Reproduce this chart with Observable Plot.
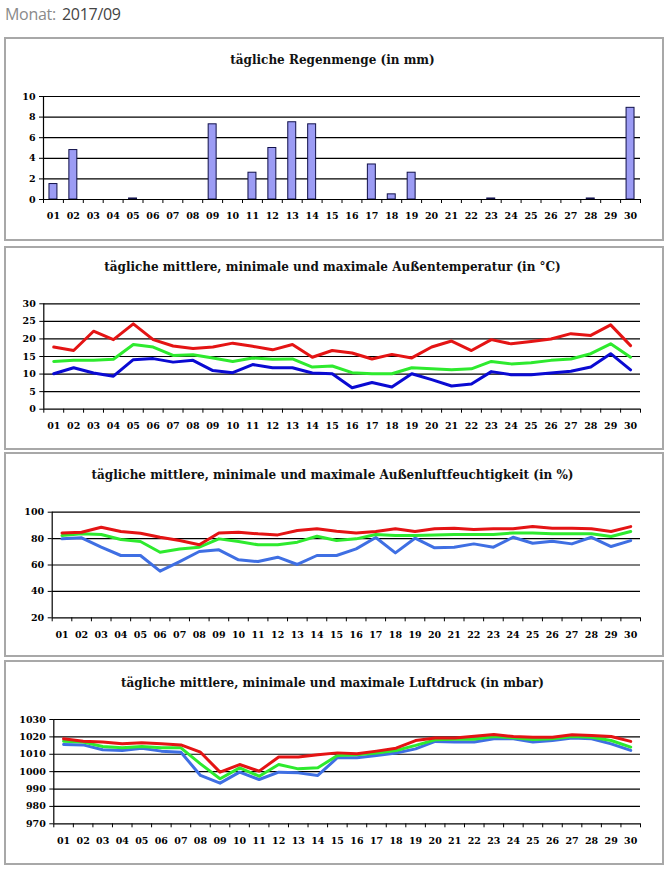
<!DOCTYPE html>
<html>
<head>
<meta charset="utf-8">
<script src="https://cdn.jsdelivr.net/npm/d3@7"></script>
<script src="https://cdn.jsdelivr.net/npm/@observablehq/plot@0.6"></script>
<style>
  html, body { margin: 0; padding: 0; background: #fff; }
  body { width: 667px; height: 872px; position: relative; overflow: hidden; }
  .hdr { position: absolute; top: 3px; font-family: "Open Sans", sans-serif; font-size: 16px; letter-spacing: -0.3px; }
  .panel { position: absolute; left: 4px; width: 656px; border: 2px solid #a8a8a8; background: #fff; }
  .panel svg { position: absolute; left: 0; top: 0; }
  .ttl { position: absolute; left: 0; width: 653px; text-align: center; font-family: "DejaVu Serif", serif; font-weight: bold; font-size: 12px; color: #111; white-space: nowrap; line-height: 14px; }
</style>
</head>
<body>
<div class="hdr" style="left:5px;color:#8a8a8a;">Monat:</div>
<div class="hdr" style="left:62px;color:#444;">2017/09</div>
<script>
const dayLabels = ["01","02","03","04","05","06","07","08","09","10","11","12","13","14","15","16","17","18","19","20","21","22","23","24","25","26","27","28","29","30"];

const rain = [1.5,4.8,0,0,0.1,0,0,0,7.3,0,2.6,5.0,7.5,7.3,0,0,3.4,0.5,2.6,0,0,0,0.1,0,0,0,0,0.1,0,8.9];

const tempMax = [17.7,16.7,22.2,19.8,24.3,19.8,18.0,17.3,17.7,18.8,17.9,16.9,18.4,14.8,16.7,16.0,14.3,15.6,14.6,17.7,19.4,16.7,19.8,18.6,19.3,20.0,21.5,21.0,24.0,18.1];
const tempMean = [13.6,13.9,13.9,14.2,18.4,17.7,15.3,15.5,14.6,13.6,14.6,14.2,14.3,12.0,12.3,10.4,10.1,10.1,11.8,11.5,11.2,11.5,13.6,12.9,13.2,13.9,14.3,15.8,18.6,14.8];
const tempMin = [10.1,11.8,10.3,9.4,14.1,14.4,13.4,13.9,11.0,10.4,12.7,11.8,11.8,10.3,10.1,6.1,7.6,6.3,10.1,8.4,6.6,7.2,10.7,9.8,9.8,10.3,10.8,12.0,15.8,11.2];

const humMax = [84.3,84.8,88.6,85.4,84.1,81.0,78.5,75.3,84.3,84.8,83.6,82.8,86.1,87.4,85.6,84.3,85.4,87.4,85.4,87.4,87.9,86.9,87.4,87.4,89.1,87.9,87.9,87.4,85.4,89.1];
const humMean = [82.3,83.6,83.1,79.3,77.8,69.7,72.2,73.5,79.8,77.8,75.3,75.3,77.3,81.8,78.5,79.8,83.1,82.3,82.3,82.8,83.1,83.1,83.1,84.3,84.3,83.6,83.6,83.6,81.6,85.4];
const humMin = [79.8,80.6,73.5,67.2,67.2,55.3,62.6,70.2,71.5,63.9,62.6,65.9,60.4,67.2,67.2,72.2,80.8,69.2,80.3,73.0,73.5,76.0,73.5,81.0,76.5,78.0,76.0,81.0,74.0,78.5];

const presMax = [1018.9,1017.5,1017.0,1016.0,1016.6,1016.0,1015.4,1011.2,999.7,1004.1,1000.3,1008.4,1008.4,1009.7,1010.8,1010.3,1011.8,1013.5,1017.9,1019.3,1019.3,1020.4,1021.4,1020.2,1019.8,1019.8,1021.2,1020.8,1020.2,1017.4];
const presMean = [1017.5,1017.0,1014.5,1013.7,1014.5,1013.7,1013.7,1004.5,995.9,1002.2,997.4,1004.1,1001.6,1002.2,1009.3,1009.7,1010.7,1012.2,1015.1,1018.3,1018.7,1018.7,1020.2,1019.5,1018.5,1018.9,1020.2,1019.8,1017.9,1014.1];
const presMin = [1015.6,1015.4,1012.6,1012.2,1013.5,1011.8,1011.2,997.8,993.4,999.7,995.5,999.7,999.3,997.8,1008.0,1008.0,1009.3,1010.7,1013.1,1017.4,1017.0,1017.0,1018.9,1018.9,1017.0,1017.9,1019.3,1018.9,1016.0,1012.2];

const rainTicks = [0,2,4,6,8,10];
const tempTicks = [0,5,10,15,20,25,30];
const humTicks = [20,40,60,80,100];
const presTicks = [970,980,990,1000,1010,1020,1030];

const titles = [
  "tägliche Regenmenge (in mm)",
  "tägliche mittlere, minimale und maximale Außentemperatur (in °C)",
  "tägliche mittlere, minimale und maximale Außenluftfeuchtigkeit (in %)",
  "tägliche mittlere, minimale und maximale Luftdruck (in mbar)"
];

const RED = "#e41414", GREEN = "#2eea2e", BLUE = "#0a0ad2", LBLUE = "#3f6fe3";

const days = dayLabels.map((l, i) => i + 1);
const bounds = d3.range(0, 31).map(i => i + 0.5);

function series(arr) { return arr.map((v, i) => ({day: days[i], v})); }

function basePlot({width, height, mL, mR, mT, mB, yDomain, yTicks, marks}) {
  const font = "DejaVu Serif";
  return Plot.plot({
    width, height,
    marginLeft: mL, marginRight: mR, marginTop: mT, marginBottom: mB,
    style: {fontFamily: font, fontSize: "9.5px", fontWeight: "bold", color: "#000", background: "white", overflow: "visible"},
    x: {type: "linear", domain: [0.5, 30.5]},
    y: {domain: yDomain},
    marks: [
      Plot.ruleY(yTicks.slice(1), {stroke: "#000", strokeWidth: 1.2}),
      ...marks,
      Plot.ruleX([0.5], {stroke: "#000", strokeWidth: 1.2}),
      Plot.ruleY([yDomain[0]], {stroke: "#000", strokeWidth: 1.2}),
      Plot.axisY({ticks: yTicks, tickSize: 4, tickPadding: 4, tickFormat: d => String(d), label: null, stroke: "#000", strokeOpacity: 1, fill: "#000"}),
      Plot.axisX({ticks: bounds, tickSize: 4, tickFormat: () => "", label: null, stroke: "#000", strokeOpacity: 1}),
      Plot.axisX({ticks: days, tickSize: 0, tickPadding: 13, tickFormat: d => dayLabels[d - 1], label: null, fill: "#000"})
    ]
  });
}

function addPanel({top, h, mL, mT, mB, titleIdx, titleY, yDomain, yTicks, marks}) {
  const div = document.createElement("div");
  div.className = "panel";
  div.style.top = top + "px";
  div.style.height = h + "px";
  document.body.appendChild(div);
  const svg = basePlot({width: 656, height: h, mL, mR: 22, mT, mB, yDomain, yTicks, marks});
  div.appendChild(svg);
  const t = document.createElement("div");
  t.className = "ttl";
  t.style.top = (titleY - 7) + "px";
  t.textContent = titles[titleIdx];
  div.appendChild(t);
}

function lines(maxA, meanA, minA, blue) {
  const sw = 3;
  return [
    Plot.line(series(minA), {x: "day", y: "v", stroke: blue, strokeWidth: sw}),
    Plot.line(series(meanA), {x: "day", y: "v", stroke: GREEN, strokeWidth: sw}),
    Plot.line(series(maxA), {x: "day", y: "v", stroke: RED, strokeWidth: sw})
  ];
}

const rainData = series(rain).filter(d => d.v > 0);

addPanel({top: 37, h: 200, mL: 37, mT: 57, mB: 40, titleIdx: 0, titleY: 21,
  yDomain: [0, 10], yTicks: rainTicks,
  marks: [Plot.rectY(rainData, {x1: d => d.day - 0.2, x2: d => d.day + 0.2, y: "v", fill: "#9c9cf4", stroke: "#10104a", strokeWidth: 1})]
});

addPanel({top: 246, h: 200, mL: 37.3, mT: 55.3, mB: 39.3, titleIdx: 1, titleY: 19,
  yDomain: [0, 30], yTicks: tempTicks,
  marks: lines(tempMax, tempMean, tempMin, BLUE)
});

addPanel({top: 452, h: 201, mL: 45.7, mT: 57.7, mB: 37.7, titleIdx: 2, titleY: 21,
  yDomain: [20, 100], yTicks: humTicks,
  marks: lines(humMax, humMean, humMin, LBLUE)
});

addPanel({top: 660, h: 201, mL: 47.3, mT: 57, mB: 39.7, titleIdx: 3, titleY: 21,
  yDomain: [970, 1030], yTicks: presTicks,
  marks: lines(presMax, presMean, presMin, LBLUE)
});
</script>
</body>
</html>
